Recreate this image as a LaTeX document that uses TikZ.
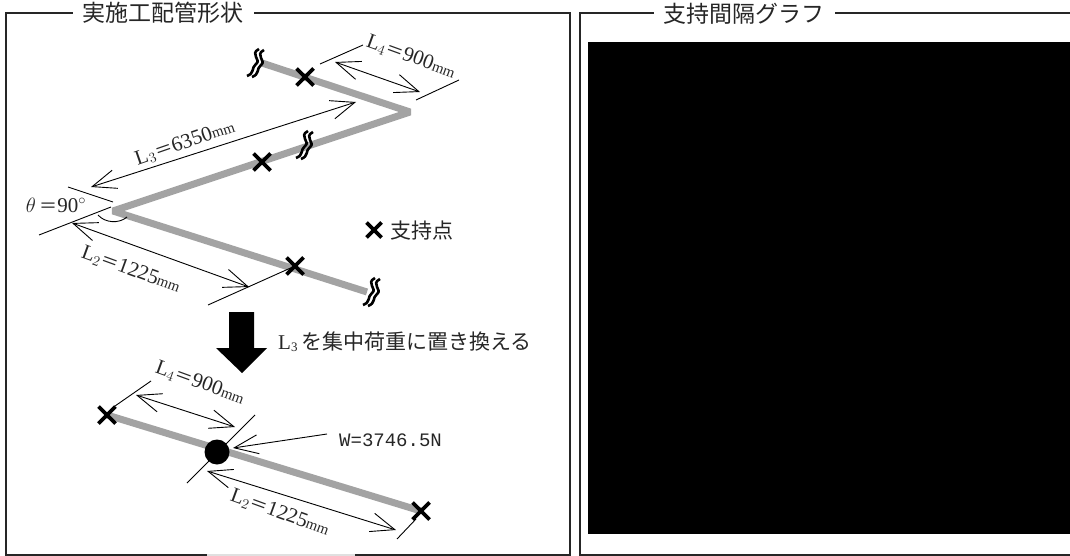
\documentclass[tikz,border=0pt]{standalone}
\usepackage{fontspec}
\setmainfont{Liberation Serif}
\newfontfamily\cjk{Noto Sans CJK JP}
\newfontfamily\monotext{Liberation Mono}
\usetikzlibrary{arrows.meta, shapes.misc}
\tikzstyle{frame} = [line width=2pt, draw=black!85]
\tikzstyle{pipe} = [line width=7pt, draw=black!36]
\tikzstyle{dimarrow} = [line width=0.9pt, {Straight Barb[length=24pt,width=19pt]}-{Straight Barb[length=24pt,width=19pt]}]
\tikzstyle{extline} = [line width=0.9pt]
\tikzstyle{support} = [cross out, draw, line width=3.6pt, minimum size=17pt, inner sep=0pt, outer sep=0pt]
\tikzstyle{dimlabel} = [font=\fontsize{21}{21}\selectfont, inner sep=0pt, text=black!85]
\tikzstyle{jptext} = [font=\cjk\fontsize{21}{21}\selectfont, inner sep=0pt, text=black!85]
\tikzstyle{title} = [font=\cjk\fontsize{23}{23}\selectfont, fill=white, inner xsep=10pt, inner ysep=0pt, text=black!85]
\newcommand{\eqsign}{{\cjk\fontsize{18}{18}\selectfont ＝}}
\newcommand{\mmunit}{{\fontsize{15}{15}\selectfont mm}}
\tikzset{
  breakmark/.pic={
    \draw[line width=2.6pt] (3,-14) .. controls (-7,-9) and (6,-3) .. (0,1) .. controls (-5,5) and (-1,10) .. (-9,13);
    \draw[line width=2.6pt] (8,-13) .. controls (-2,-8) and (11,-2) .. (5,2) .. controls (0,6) and (4,11) .. (-4,14);
  }
}
\begin{document}
\begin{tikzpicture}[x=1pt, y=-1pt]
  \useasboundingbox (0,0) rectangle (1070,556);

  % Frames
  \draw[frame] (6,13) rectangle (570,555);
  \draw[frame] (580,13) rectangle (1074,555);
  \draw[line width=2pt, black!12] (207,555) -- (355,555);
  \node[title] (titleleft) at (163,13) {実施工配管形状};
  \node[title] (titleright) at (744,14) {支持間隔グラフ};
  \fill (588,42) rectangle (1070,534);

  % Upper piping
  \coordinate (start) at (262,63);
  \coordinate (cornerR) at (410,112);
  \coordinate (cornerL) at (113,211);
  \coordinate (stop) at (367,292);
  \draw[pipe, line join=miter, miter limit=1] (start) -- (cornerR) -- (cornerL) -- (stop);
  \node[support] (sup1) at (305,77) {};
  \node[support] (sup2) at (262,162) {};
  \node[support] (sup3) at (295,266) {};
  \pic at (256,63) {breakmark};
  \pic at (305,145) {breakmark};
  \pic at (372,292) {breakmark};

  % Dimensions L4
  \coordinate (a1) at (320,64);
  \coordinate (a2) at (363,45);
  \coordinate (a3) at (416,100);
  \coordinate (a4) at (459,80);
  \draw[extline] (a1) -- (a2);
  \draw[extline] (a3) -- (a4);
  \coordinate (a5) at (335,62);
  \coordinate (a6) at (420,92);
  \draw[dimarrow] (a5) -- (a6);
  \node[dimlabel, rotate=-20] (labelL4) at (411,57) {L$_4$\eqsign 900\mmunit};

  % Dimensions L3 and angle
  \coordinate (b1) at (356,102);
  \coordinate (b2) at (91,187);
  \draw[dimarrow] (b1) -- (b2);
  \node[dimlabel, rotate=19] (labelL3) at (185,143) {L$_3$\eqsign 6350\mmunit};
  \coordinate (c1) at (68,187);
  \coordinate (c2) at (113,202);
  \coordinate (c3) at (39,235);
  \coordinate (c4) at (111,207);
  \draw[extline] (c1) -- (c2);
  \draw[extline] (c3) -- (c4);
  \coordinate (c5) at (98,215);
  \coordinate (c6) at (127,217);
  \draw[extline] (c5) .. controls (105,223) and (119,224) .. (c6);
  \node[dimlabel] (labelangle) at (56,205) {$\theta$\,\eqsign 90$^\circ$};

  % Dimensions L2
  \coordinate (d1) at (72,223);
  \coordinate (d2) at (249,287);
  \draw[dimarrow] (d1) -- (d2);
  \coordinate (d3) at (295,266);
  \coordinate (d4) at (208,305);
  \draw[extline] (d3) -- (d4);
  \node[dimlabel, rotate=-20] (labelL2) at (131,270) {L$_2$\eqsign 1225\mmunit};

  % Legend
  \node[support, minimum size=15pt] (legendmark) at (374,230) {};
  \node[jptext] (legendtext) at (422,231) {支持点};

  % Big arrow
  \fill (229,312) -- (254,312) -- (254,348) -- (267,348) -- (242,373) -- (216,348) -- (229,348) -- cycle;
  \node[jptext, anchor=west] (replace) at (278,342) {{\fontspec{Liberation Serif}L\raisebox{-2pt}{\fontsize{13}{13}\selectfont 3}}\,を集中荷重に置き換える};

  % Lower beam
  \coordinate (e1) at (107,415);
  \coordinate (e2) at (421,511);
  \draw[pipe] (e1) -- (e2);
  \node[support] (sup4) at (107,415) {};
  \node[support] (sup5) at (421,511) {};
  \node[circle, fill=black, minimum size=25pt, inner sep=0pt] (load) at (217,452) {};

  \coordinate (f1) at (115,406);
  \coordinate (f2) at (151,381);
  \coordinate (f3) at (255,415);
  \coordinate (f4) at (187,483);
  \coordinate (f5) at (416,519);
  \coordinate (f6) at (397,539);
  \draw[extline] (f1) -- (f2);
  \draw[extline] (f3) -- (f4);
  \draw[extline] (f5) -- (f6);
  \coordinate (g1) at (136,395);
  \coordinate (g2) at (235,427);
  \draw[dimarrow] (g1) -- (g2);
  \node[dimlabel, rotate=-20] (labelL4b) at (200,383) {L$_4$\eqsign 900\mmunit};
  \coordinate (g3) at (207,471);
  \coordinate (g4) at (396,530);
  \draw[dimarrow] (g3) -- (g4);
  \node[dimlabel, rotate=-20] (labelL2b) at (280,513) {L$_2$\eqsign 1225\mmunit};

  % Load
  \node[dimlabel, anchor=west, font=\monotext\fontsize{19}{19}\selectfont] (loadtext) at (339,440) {W=3746.5N};
  \coordinate (h1) at (327,434);
  \coordinate (h2) at (233,448);
  \draw[extline, -{Straight Barb[length=24pt,width=19pt]}] (h1) -- (h2);
\end{tikzpicture}
\end{document}
